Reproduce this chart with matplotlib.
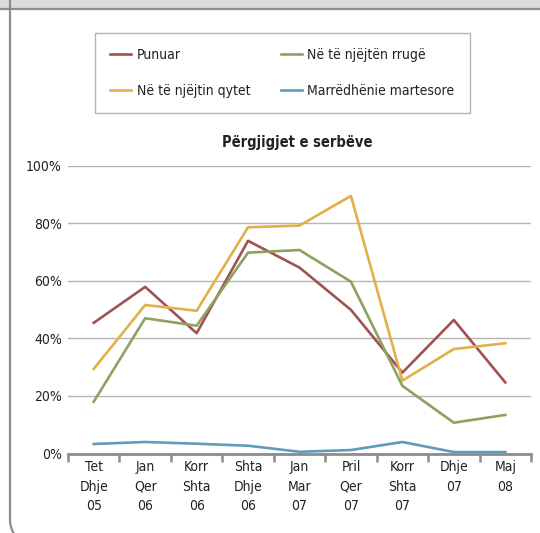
import matplotlib
matplotlib.use("Agg")
import matplotlib.pyplot as plt
import matplotlib.patches as mpatches
import numpy as np

plt.rcParams["font.family"] = ["DejaVu Sans"]
plt.rcParams["font.stretch"] = "condensed"

# ── Data ────────────────────────────────────────────────────────────────────
categories = ["Tet\nDhje\n05", "Jan\nQer\n06", "Korr\nShta\n06", "Shta\nDhje\n06",
              "Jan\nMar\n07", "Pril\nQer\n07", "Korr\nShta\n07", "Dhje\n07", "Maj\n08"]
punuar    = [45.4, 57.9, 41.8, 73.9, 64.6, 49.9, 28.1, 46.4, 24.7]
rruge     = [18.0, 47.0, 44.4, 69.8, 70.7, 59.7, 23.5, 10.7, 13.4]
qytet     = [29.4, 51.6, 49.6, 78.6, 79.2, 89.5, 25.3, 36.3, 38.3]
martesore = [3.3, 4.0, 3.4, 2.7, 0.6, 1.2, 4.0, 0.5, 0.5]
yticks    = [0, 20, 40, 60, 80, 100]

series = [
    ("Punuar", punuar, "#A05252"),
    ("Në të njëjtin qytet", qytet, "#E2B04A"),
    ("Në të njëjtën rrugë", rruge, "#8DA25F"),
    ("Marrëdhënie martesore", martesore, "#5F9BBB"),
]

W, H = 540, 533
fig = plt.figure(figsize=(W / 100, H / 100), dpi=100, facecolor="white")

# ── Frame decorations (pixel coordinates) ───────────────────────────────────
deco = fig.add_axes([0, 0, 1, 1], zorder=0)
deco.set_xlim(0, W)
deco.set_ylim(H, 0)
deco.axis("off")
deco.add_patch(mpatches.Rectangle((0, 0), W, 8.5, facecolor="#DCDCDC", edgecolor="none"))
deco.plot([0, W], [9.3, 9.3], color="#8C8C8C", linewidth=1.6)
theta = np.linspace(np.pi, np.pi / 2, 30)
bx = np.concatenate([[10, 10], 35 + 25 * np.cos(theta)])
by = np.concatenate([[0, 520], 520 + 25 * np.sin(theta)])
deco.plot(bx, by, color="#8C8C8C", linewidth=1.6)

# ── Main chart ──────────────────────────────────────────────────────────────
ax = fig.add_axes([68 / W, 79.5 / H, 463 / W, 287.8 / H], zorder=1)
ax.set_facecolor("none")
x = np.arange(len(categories))
handles = []
for name, vals, col in series:
    h, = ax.plot(x, vals, color=col, linewidth=1.9, label=name, zorder=3)
    handles.append(h)

ax.set_xlim(-0.5, len(categories) - 0.5)
ax.set_ylim(0, 100)
ax.set_yticks(yticks)
ax.set_yticklabels([f"{v}%" for v in yticks], fontsize=10, color="#222222")
ax.tick_params(axis="y", length=0, pad=4.5)
ax.grid(axis="y", color="#B4B4B4", linewidth=1.0, zorder=0)

ax.set_xticks(x)
ax.set_xticklabels(categories, fontsize=10, color="#222222", linespacing=1.5, va="top")
ax.tick_params(axis="x", which="major", length=0, pad=5)
ax.set_xticks(np.arange(-0.5, len(categories), 1.0), minor=True)
ax.tick_params(axis="x", which="minor", length=6, width=1.8, color="#8C8C8C", direction="out")

for s in ["top", "right", "left"]:
    ax.spines[s].set_visible(False)
ax.spines["bottom"].set_color("#8C8C8C")
ax.spines["bottom"].set_linewidth(2.0)

fig.text(297 / W, 1 - 143 / H, "Përgjigjet e serbëve", ha="center", va="center",
         fontsize=10.5, fontweight="bold", color="#222222")

leg = fig.legend(handles=handles, ncol=2, loc="upper left",
                 bbox_to_anchor=(95 / W, 1 - 33 / H), fontsize=10,
                 frameon=True, fancybox=False, edgecolor="#A0A0A0",
                 handlelength=1.5, handletextpad=0.4, columnspacing=2.2,
                 borderpad=1.1, labelspacing=1.55, borderaxespad=0)
leg.get_frame().set_linewidth(1.0)
for t in leg.get_texts():
    t.set_color("#222222")

fig.savefig("out.png", dpi=100, facecolor="white")
